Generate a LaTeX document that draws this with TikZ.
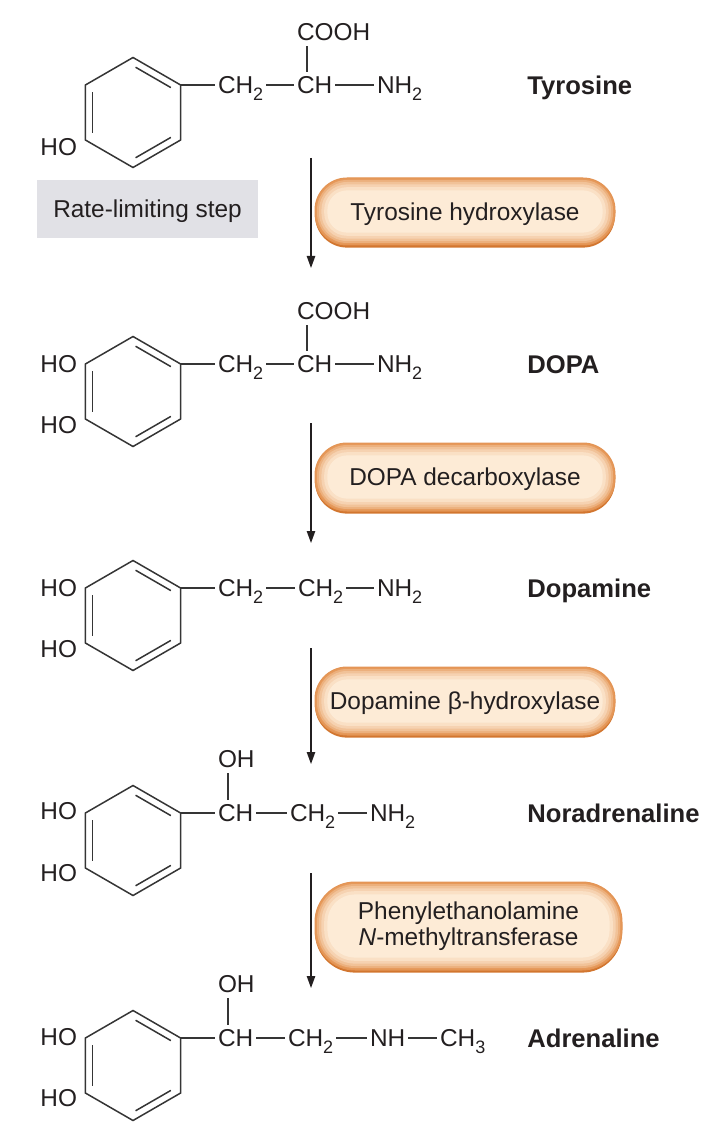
\documentclass[tikz,border=0pt]{standalone}
\usepackage{fontspec}
\setmainfont{Liberation Sans}
\usetikzlibrary{arrows.meta,shadows}
\definecolor{txt}{HTML}{231F20}
\definecolor{bondc}{HTML}{353535}
\definecolor{boxin}{HTML}{FDEBD6}
\definecolor{boxout}{HTML}{E6995A}
\definecolor{boxedge}{HTML}{D2762F}
\definecolor{rategray}{HTML}{E1E1E6}
\newcommand\chemfont{\fontsize{12.2}{14}\selectfont}
\newcommand\namefont{\fontsize{12.8}{15}\selectfont\bfseries}
\newcommand\chemsub[1]{\raisebox{-3.4pt}{\fontsize{9}{10}\selectfont #1}}
\newcommand\enzfill[1]{%
  \foreach \d/\p in {0/0,1/28,2/50,3.2/70,4.6/86,6.2/100}{%
    \pgfmathsetlengthmacro\rr{#1-\d pt}%
    \fill[boxin!\p!boxout, rounded corners=\rr]
      ([shift={(\d pt,\d pt)}]path picture bounding box.south west) rectangle
      ([shift={(-\d pt,-\d pt)}]path picture bounding box.north east);
  }}
\newcommand\benzring[3]{%
  \begin{scope}[shift={(#2,#3)}]
    \draw[ringline] (0,-55) -- (47.6,-27.5) -- (47.6,27.5) -- (0,55)
      -- (-47.6,27.5) -- (-47.6,-27.5) -- cycle;
    \draw[ringline, shorten <=1.5pt, shorten >=1.5pt] (0,-46.75) -- (40.46,-23.4);
    \draw[ringline, shorten <=1.5pt, shorten >=1.5pt] (40.46,23.4) -- (0,46.75);
    \draw[ringline, shorten <=1.5pt, shorten >=1.5pt] (-40.46,23.4) -- (-40.46,-23.4);
    \coordinate (#1-ur) at (47.6,-27.5);
  \end{scope}}
\begin{document}
\begin{tikzpicture}[x=0.5pt,y=-0.5pt,
  ringline/.style={draw=bondc, line width=0.75pt, line join=miter},
  bond/.style={draw=bondc, line width=0.75pt},
  chem/.style={anchor=base west, inner sep=1.5pt, outer sep=0pt, font=\chemfont, text=txt},
  chemr/.style={chem, anchor=base east},
  cname/.style={anchor=base west, inner sep=0pt, font=\namefont, text=txt},
  rxn/.style={draw=txt, line width=0.65pt, -{Triangle[length=6pt,width=4.2pt]}},
  ratebox/.style={fill=rategray, minimum width=110.5pt, minimum height=29pt,
    inner sep=0pt, font=\chemfont, text=txt, text height=8.8pt, text depth=0pt},
  enzyme/.style={draw=boxout!85!boxedge, line width=0.5pt, rounded corners=#1,
    drop shadow={shadow xshift=0pt, shadow yshift=-1.3pt, fill=boxedge, opacity=1},
    path picture={\enzfill{#1}}, minimum width=150pt, minimum height=34pt,
    inner sep=0pt, font=\chemfont, text=txt, align=center}
]
\useasboundingbox (0,0) rectangle (726,1144);

% ---------- Tyrosine ----------
\benzring{t}{133}{112.5}
\node[chem] (t-ch2) at (215,93.7) {CH\chemsub{2}};
\node[chem] (t-ch) at (294,93.7) {CH};
\node[chem] (t-nh2) at (374,93.7) {NH\chemsub{2}};
\node[chem] (t-cooh) at (294,40.7) {COOH};
\node[chemr] (t-ho) at (80,155.7) {HO};
\draw[bond] (t-ur) -- (t-ch2.west |- t-ur);
\draw[bond] (t-ch2.east |- t-ur) -- (t-ch.west |- t-ur);
\draw[bond] (t-ch.east |- t-ur) -- (t-nh2.west |- t-ur);
\draw[bond, shorten <=1pt, shorten >=1pt] ([xshift=6.6pt]t-ch.north west) -- ([xshift=6.6pt]t-cooh.south west);
\node[cname] (t-name) at (527,94.2) {Tyrosine};

\node[ratebox] (rate) at (147.5,209) {Rate-limiting step};
\node[enzyme=16pt, minimum height=33.5pt, text height=8.8pt, text depth=0pt] (e1) at (465,211.5) {Tyrosine hydroxylase};
\coordinate (a1s) at (311,158);
\coordinate (a1e) at (311,268);
\draw[rxn] (a1s) -- (a1e);

% ---------- DOPA ----------
\benzring{d}{133}{391.5}
\node[chem] (d-ch2) at (215,372.7) {CH\chemsub{2}};
\node[chem] (d-ch) at (294,372.7) {CH};
\node[chem] (d-nh2) at (374,372.7) {NH\chemsub{2}};
\node[chem] (d-cooh) at (294,319.7) {COOH};
\node[chemr] (d-ho1) at (80,372.2) {HO};
\node[chemr] (d-ho2) at (80,433.7) {HO};
\draw[bond] (d-ur) -- (d-ch2.west |- d-ur);
\draw[bond] (d-ch2.east |- d-ur) -- (d-ch.west |- d-ur);
\draw[bond] (d-ch.east |- d-ur) -- (d-nh2.west |- d-ur);
\draw[bond, shorten <=1pt, shorten >=1pt] ([xshift=6.6pt]d-ch.north west) -- ([xshift=6.6pt]d-cooh.south west);
\node[cname] (d-name) at (527,373.2) {DOPA};

\node[enzyme=16pt, text height=8.8pt, text depth=0pt] (e2) at (465,477) {DOPA decarboxylase};
\coordinate (a2s) at (311,423);
\coordinate (a2e) at (311,543);
\draw[rxn] (a2s) -- (a2e);

% ---------- Dopamine ----------
\benzring{p}{133}{615.5}
\node[chem] (p-ch2a) at (215,596.7) {CH\chemsub{2}};
\node[chem] (p-ch2b) at (295,596.7) {CH\chemsub{2}};
\node[chem] (p-nh2) at (374,596.7) {NH\chemsub{2}};
\node[chemr] (p-ho1) at (80,596.2) {HO};
\node[chemr] (p-ho2) at (80,657.7) {HO};
\draw[bond] (p-ur) -- (p-ch2a.west |- p-ur);
\draw[bond] (p-ch2a.east |- p-ur) -- (p-ch2b.west |- p-ur);
\draw[bond] (p-ch2b.east |- p-ur) -- (p-nh2.west |- p-ur);
\node[cname] (p-name) at (527,597.2) {Dopamine};

\node[enzyme=16pt, text height=8.8pt, text depth=0pt] (e3) at (465,701) {Dopamine β-hydroxylase};
\coordinate (a3s) at (311,648);
\coordinate (a3e) at (311,764);
\draw[rxn] (a3s) -- (a3e);

% ---------- Noradrenaline ----------
\benzring{n}{133}{840.5}
\node[chem] (n-ch) at (215,821.7) {CH};
\node[chem] (n-ch2) at (287,821.7) {CH\chemsub{2}};
\node[chem] (n-nh2) at (367,821.7) {NH\chemsub{2}};
\node[chem] (n-oh) at (215,767.7) {OH};
\node[chemr] (n-ho1) at (80,819.2) {HO};
\node[chemr] (n-ho2) at (80,881.7) {HO};
\draw[bond] (n-ur) -- (n-ch.west |- n-ur);
\draw[bond] (n-ch.east |- n-ur) -- (n-ch2.west |- n-ur);
\draw[bond] (n-ch2.east |- n-ur) -- (n-nh2.west |- n-ur);
\draw[bond, shorten <=1pt, shorten >=1pt] ([xshift=6.6pt]n-ch.north west) -- ([xshift=6.6pt]n-oh.south west);
\node[cname] (n-name) at (527,822.2) {Noradrenaline};

\node[enzyme=20pt, minimum width=153.5pt, minimum height=44pt] (e4) at (468.5,926) {Phenylethanolamine\\[-1.2pt]\textit{N}-methyltransferase};
\coordinate (a4s) at (311,873);
\coordinate (a4e) at (311,988);
\draw[rxn] (a4s) -- (a4e);

% ---------- Adrenaline ----------
\benzring{a}{133}{1065.5}
\node[chem] (a-ch) at (215,1046.7) {CH};
\node[chem] (a-ch2) at (285,1046.7) {CH\chemsub{2}};
\node[chem] (a-nh) at (367,1046.7) {NH};
\node[chem] (a-ch3) at (437,1046.7) {CH\chemsub{3}};
\node[chem] (a-oh) at (215,992.7) {OH};
\node[chemr] (a-ho1) at (80,1045.7) {HO};
\node[chemr] (a-ho2) at (80,1106.7) {HO};
\draw[bond] (a-ur) -- (a-ch.west |- a-ur);
\draw[bond] (a-ch.east |- a-ur) -- (a-ch2.west |- a-ur);
\draw[bond] (a-ch2.east |- a-ur) -- (a-nh.west |- a-ur);
\draw[bond] (a-nh.east |- a-ur) -- (a-ch3.west |- a-ur);
\draw[bond, shorten <=1pt, shorten >=1pt] ([xshift=6.6pt]a-ch.north west) -- ([xshift=6.6pt]a-oh.south west);
\node[cname] (a-name) at (527,1047.2) {Adrenaline};
\end{tikzpicture}
\end{document}
